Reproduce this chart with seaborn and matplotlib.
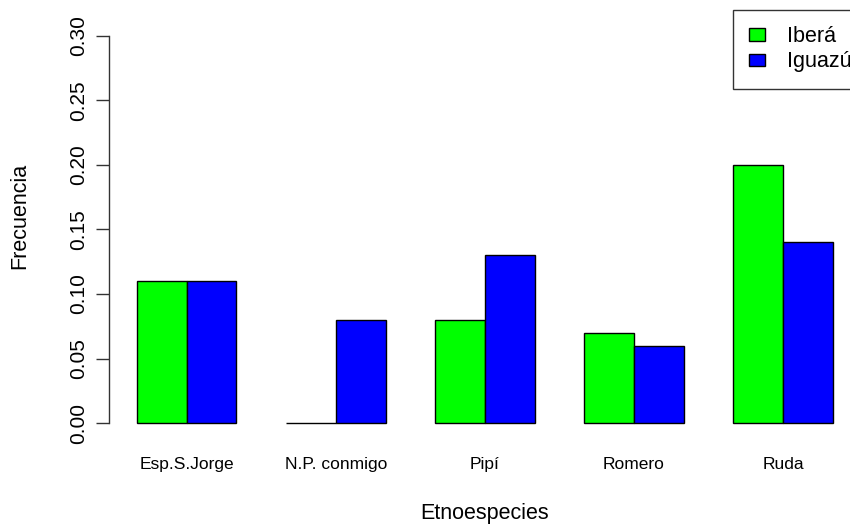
import matplotlib
matplotlib.use("Agg")
import matplotlib.pyplot as plt
from matplotlib.patches import Patch
import seaborn as sns
import pandas as pd

# Relative frequency of each ethno-species at the two sites
especies = ["Esp.S.Jorge", "N.P. conmigo", "Pipí", "Romero", "Ruda"]
sitios = ["Iberá", "Iguazú"]
ibera = [0.11, 0.00, 0.08, 0.07, 0.20]
iguazu = [0.11, 0.08, 0.13, 0.06, 0.14]
colores = ["#00FF00", "#0000FF"]
yticks = [0.00, 0.05, 0.10, 0.15, 0.20, 0.25, 0.30]

df = pd.DataFrame({
    "Etnoespecie": especies * 2,
    "Sitio": [sitios[0]] * len(especies) + [sitios[1]] * len(especies),
    "Frecuencia": ibera + iguazu,
})

sns.set_theme(style="white")
plt.rcParams["font.family"] = ["Liberation Sans", "DejaVu Sans"]
plt.rcParams["text.color"] = "black"
plt.rcParams["axes.labelcolor"] = "black"
plt.rcParams["xtick.color"] = "black"
plt.rcParams["ytick.color"] = "black"

W, H = 850, 525
fig = plt.figure(figsize=(W / 100, H / 100), dpi=100)
left, right, top, bottom = 109.2, 860.6, 20.5, 438.5
ax = fig.add_axes([left / W, 1 - bottom / H, (right - left) / W, (bottom - top) / H])

sns.barplot(
    data=df, x="Etnoespecie", y="Frecuencia", hue="Sitio",
    order=especies, hue_order=sitios,
    palette=dict(zip(sitios, colores)),
    width=2 / 3, gap=0, edgecolor="black", linewidth=1.0,
    saturation=1, errorbar=None, legend=False, ax=ax,
)

ax.set_xlim(-0.52, 4.52)
ax.set_ylim(-0.012, 0.312)
ax.set_yticks(yticks)
ax.set_yticklabels([f"{v:.2f}" for v in yticks], rotation=90, va="center")
ax.tick_params(axis="y", length=9.5, width=1, color="#333333", pad=6,
               labelsize=15, left=True, labelcolor="black")
ax.tick_params(axis="x", length=0, pad=13.5, labelsize=12.5, labelcolor="black")

for s in ["top", "right", "bottom"]:
    ax.spines[s].set_visible(False)
ax.spines["left"].set_bounds(0, 0.3)
ax.spines["left"].set_color("#333333")
ax.spines["left"].set_linewidth(1)

ax.set_xlabel("Etnoespecies", fontsize=15.5, color="black")
ax.set_ylabel("Frecuencia", fontsize=15.5, color="black")
ax.xaxis.set_label_coords(484.5 / W, 1 - 513 / H, transform=fig.transFigure)
ax.xaxis.label.set_va("center")
ax.yaxis.set_label_coords(20 / W, 1 - 216 / H, transform=fig.transFigure)
ax.yaxis.label.set_va("center")
ax.yaxis.label.set_ha("center")

handles = [Patch(facecolor=c, edgecolor="black", linewidth=1) for c in colores]
leg = fig.legend(
    handles, sitios, loc="upper left",
    bbox_to_anchor=(733 / W, 1 - 10 / H), bbox_transform=fig.transFigure,
    fontsize=15.5, frameon=True, fancybox=False, shadow=False,
    framealpha=1, edgecolor="#333333", borderpad=0.75,
    handlelength=0.75, handleheight=0.5, handletextpad=1.0,
    labelspacing=0.2, borderaxespad=0,
)
leg.get_frame().set_linewidth(1)
for t in leg.get_texts():
    t.set_color("black")

fig.savefig("out.png", dpi=100, facecolor="white")
